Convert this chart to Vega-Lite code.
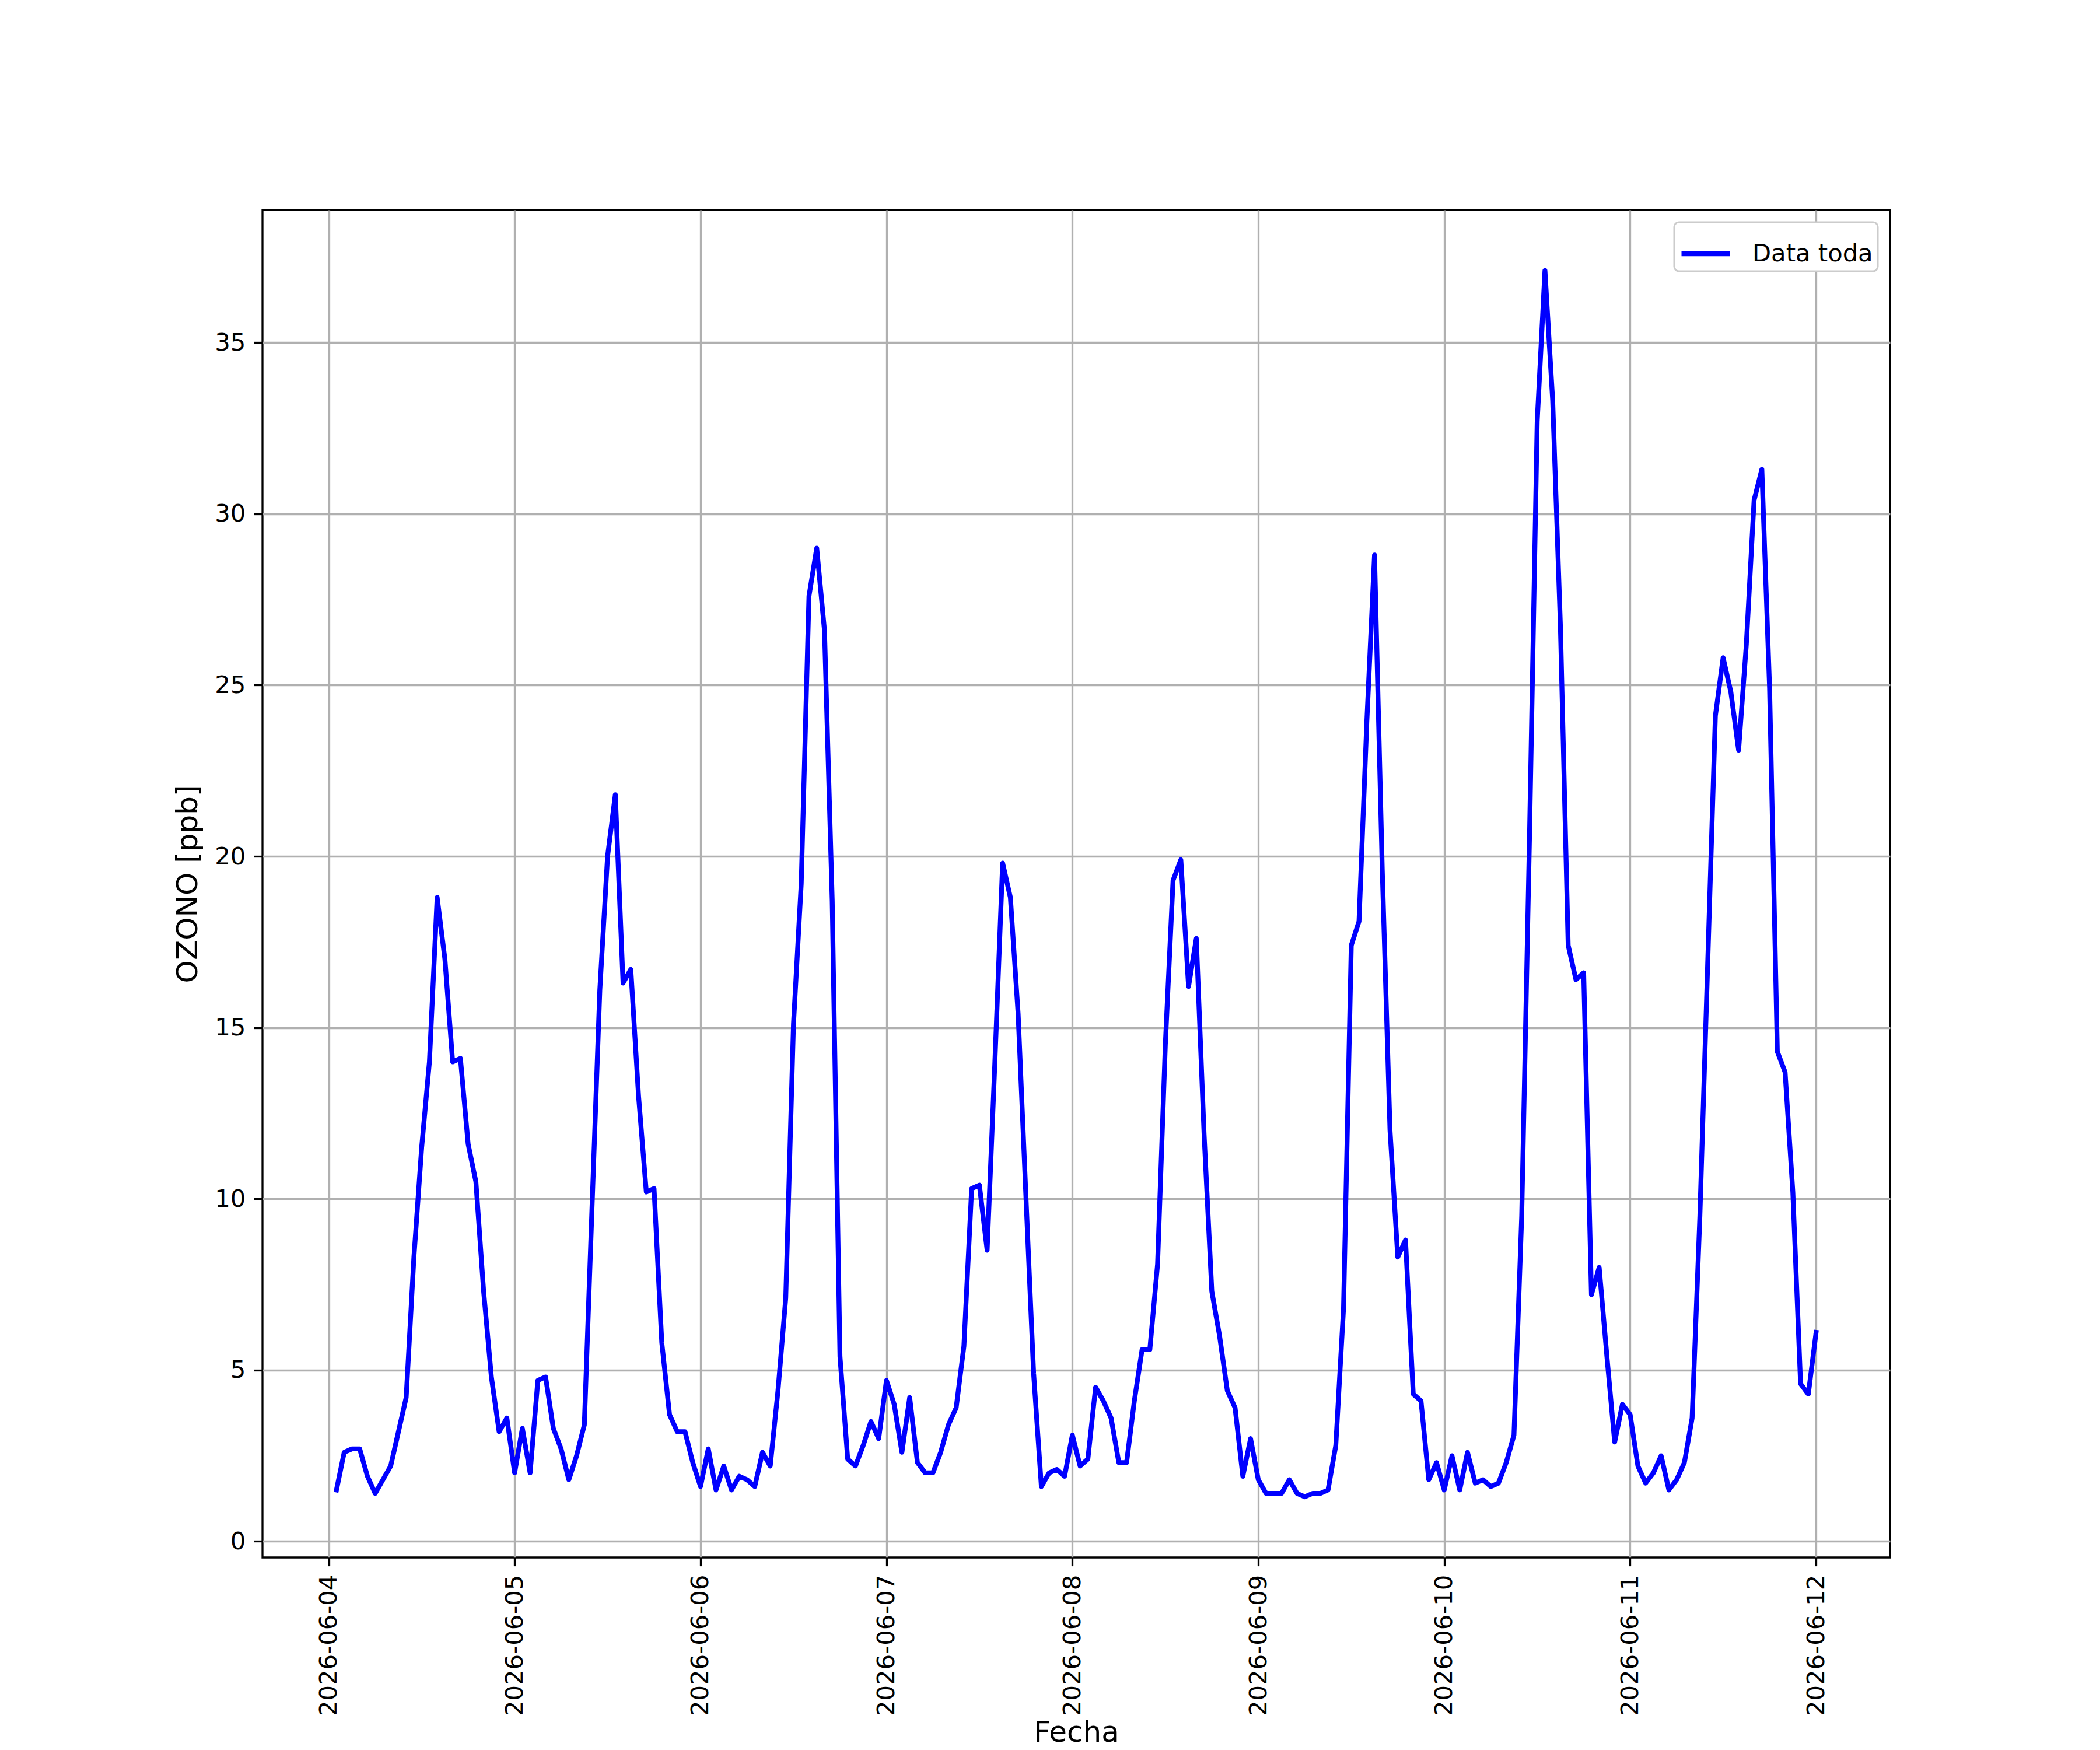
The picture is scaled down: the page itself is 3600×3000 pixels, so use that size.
{
  "$schema": "https://vega.github.io/schema/vega-lite/v6.json",
  "width": 2790,
  "height": 2310,
  "autosize": {"type": "none"},
  "padding": {"left": 450, "top": 360, "right": 360, "bottom": 330},
  "background": "white",
  "data": {
    "values": [
      {"t": "2026-06-04T01:00", "v": 1.5}, {"t": "2026-06-04T02:00", "v": 2.6}, {"t": "2026-06-04T03:00", "v": 2.7}, {"t": "2026-06-04T04:00", "v": 2.7},
      {"t": "2026-06-04T05:00", "v": 1.9}, {"t": "2026-06-04T06:00", "v": 1.4}, {"t": "2026-06-04T07:00", "v": 1.8}, {"t": "2026-06-04T08:00", "v": 2.2},
      {"t": "2026-06-04T09:00", "v": 3.2}, {"t": "2026-06-04T10:00", "v": 4.2}, {"t": "2026-06-04T11:00", "v": 8.3}, {"t": "2026-06-04T12:00", "v": 11.5},
      {"t": "2026-06-04T13:00", "v": 14.0}, {"t": "2026-06-04T14:00", "v": 18.8}, {"t": "2026-06-04T15:00", "v": 17.0}, {"t": "2026-06-04T16:00", "v": 14.0},
      {"t": "2026-06-04T17:00", "v": 14.1}, {"t": "2026-06-04T18:00", "v": 11.6}, {"t": "2026-06-04T19:00", "v": 10.5}, {"t": "2026-06-04T20:00", "v": 7.3},
      {"t": "2026-06-04T21:00", "v": 4.8}, {"t": "2026-06-04T22:00", "v": 3.2}, {"t": "2026-06-04T23:00", "v": 3.6},
      {"t": "2026-06-05T00:00", "v": 2.0}, {"t": "2026-06-05T01:00", "v": 3.3}, {"t": "2026-06-05T02:00", "v": 2.0}, {"t": "2026-06-05T03:00", "v": 4.7},
      {"t": "2026-06-05T04:00", "v": 4.8}, {"t": "2026-06-05T05:00", "v": 3.3}, {"t": "2026-06-05T06:00", "v": 2.7}, {"t": "2026-06-05T07:00", "v": 1.8},
      {"t": "2026-06-05T08:00", "v": 2.5}, {"t": "2026-06-05T09:00", "v": 3.4}, {"t": "2026-06-05T10:00", "v": 9.8}, {"t": "2026-06-05T11:00", "v": 16.1},
      {"t": "2026-06-05T12:00", "v": 20.0}, {"t": "2026-06-05T13:00", "v": 21.8}, {"t": "2026-06-05T14:00", "v": 16.3}, {"t": "2026-06-05T15:00", "v": 16.7},
      {"t": "2026-06-05T16:00", "v": 13.0}, {"t": "2026-06-05T17:00", "v": 10.2}, {"t": "2026-06-05T18:00", "v": 10.3}, {"t": "2026-06-05T19:00", "v": 5.8},
      {"t": "2026-06-05T20:00", "v": 3.7}, {"t": "2026-06-05T21:00", "v": 3.2}, {"t": "2026-06-05T22:00", "v": 3.2}, {"t": "2026-06-05T23:00", "v": 2.3},
      {"t": "2026-06-06T00:00", "v": 1.6}, {"t": "2026-06-06T01:00", "v": 2.7}, {"t": "2026-06-06T02:00", "v": 1.5}, {"t": "2026-06-06T03:00", "v": 2.2},
      {"t": "2026-06-06T04:00", "v": 1.5}, {"t": "2026-06-06T05:00", "v": 1.9}, {"t": "2026-06-06T06:00", "v": 1.8}, {"t": "2026-06-06T07:00", "v": 1.6},
      {"t": "2026-06-06T08:00", "v": 2.6}, {"t": "2026-06-06T09:00", "v": 2.2}, {"t": "2026-06-06T10:00", "v": 4.4}, {"t": "2026-06-06T11:00", "v": 7.1},
      {"t": "2026-06-06T12:00", "v": 15.1}, {"t": "2026-06-06T13:00", "v": 19.2}, {"t": "2026-06-06T14:00", "v": 27.6}, {"t": "2026-06-06T15:00", "v": 29.0},
      {"t": "2026-06-06T16:00", "v": 26.6}, {"t": "2026-06-06T17:00", "v": 18.7}, {"t": "2026-06-06T18:00", "v": 5.4}, {"t": "2026-06-06T19:00", "v": 2.4},
      {"t": "2026-06-06T20:00", "v": 2.2}, {"t": "2026-06-06T21:00", "v": 2.8}, {"t": "2026-06-06T22:00", "v": 3.5}, {"t": "2026-06-06T23:00", "v": 3.0},
      {"t": "2026-06-07T00:00", "v": 4.7}, {"t": "2026-06-07T01:00", "v": 4.0}, {"t": "2026-06-07T02:00", "v": 2.6}, {"t": "2026-06-07T03:00", "v": 4.2},
      {"t": "2026-06-07T04:00", "v": 2.3}, {"t": "2026-06-07T05:00", "v": 2.0}, {"t": "2026-06-07T06:00", "v": 2.0}, {"t": "2026-06-07T07:00", "v": 2.6},
      {"t": "2026-06-07T08:00", "v": 3.4}, {"t": "2026-06-07T09:00", "v": 3.9}, {"t": "2026-06-07T10:00", "v": 5.7}, {"t": "2026-06-07T11:00", "v": 10.3},
      {"t": "2026-06-07T12:00", "v": 10.4}, {"t": "2026-06-07T13:00", "v": 8.5}, {"t": "2026-06-07T14:00", "v": 14.0}, {"t": "2026-06-07T15:00", "v": 19.8},
      {"t": "2026-06-07T16:00", "v": 18.8}, {"t": "2026-06-07T17:00", "v": 15.4}, {"t": "2026-06-07T18:00", "v": 10.1}, {"t": "2026-06-07T19:00", "v": 4.9},
      {"t": "2026-06-07T20:00", "v": 1.6}, {"t": "2026-06-07T21:00", "v": 2.0}, {"t": "2026-06-07T22:00", "v": 2.1}, {"t": "2026-06-07T23:00", "v": 1.9},
      {"t": "2026-06-08T00:00", "v": 3.1}, {"t": "2026-06-08T01:00", "v": 2.2}, {"t": "2026-06-08T02:00", "v": 2.4}, {"t": "2026-06-08T03:00", "v": 4.5},
      {"t": "2026-06-08T04:00", "v": 4.1}, {"t": "2026-06-08T05:00", "v": 3.6}, {"t": "2026-06-08T06:00", "v": 2.3}, {"t": "2026-06-08T07:00", "v": 2.3},
      {"t": "2026-06-08T08:00", "v": 4.1}, {"t": "2026-06-08T09:00", "v": 5.6}, {"t": "2026-06-08T10:00", "v": 5.6}, {"t": "2026-06-08T11:00", "v": 8.1},
      {"t": "2026-06-08T12:00", "v": 14.5}, {"t": "2026-06-08T13:00", "v": 19.3}, {"t": "2026-06-08T14:00", "v": 19.9}, {"t": "2026-06-08T15:00", "v": 16.2},
      {"t": "2026-06-08T16:00", "v": 17.6}, {"t": "2026-06-08T17:00", "v": 11.9}, {"t": "2026-06-08T18:00", "v": 7.3}, {"t": "2026-06-08T19:00", "v": 6.0},
      {"t": "2026-06-08T20:00", "v": 4.4}, {"t": "2026-06-08T21:00", "v": 3.9}, {"t": "2026-06-08T22:00", "v": 1.9}, {"t": "2026-06-08T23:00", "v": 3.0},
      {"t": "2026-06-09T00:00", "v": 1.8}, {"t": "2026-06-09T01:00", "v": 1.4}, {"t": "2026-06-09T02:00", "v": 1.4}, {"t": "2026-06-09T03:00", "v": 1.4},
      {"t": "2026-06-09T04:00", "v": 1.8}, {"t": "2026-06-09T05:00", "v": 1.4}, {"t": "2026-06-09T06:00", "v": 1.3}, {"t": "2026-06-09T07:00", "v": 1.4},
      {"t": "2026-06-09T08:00", "v": 1.4}, {"t": "2026-06-09T09:00", "v": 1.5}, {"t": "2026-06-09T10:00", "v": 2.8}, {"t": "2026-06-09T11:00", "v": 6.8},
      {"t": "2026-06-09T12:00", "v": 17.4}, {"t": "2026-06-09T13:00", "v": 18.1}, {"t": "2026-06-09T14:00", "v": 23.9}, {"t": "2026-06-09T15:00", "v": 28.8},
      {"t": "2026-06-09T16:00", "v": 19.6}, {"t": "2026-06-09T17:00", "v": 12.0}, {"t": "2026-06-09T18:00", "v": 8.3}, {"t": "2026-06-09T19:00", "v": 8.8},
      {"t": "2026-06-09T20:00", "v": 4.3}, {"t": "2026-06-09T21:00", "v": 4.1}, {"t": "2026-06-09T22:00", "v": 1.8}, {"t": "2026-06-09T23:00", "v": 2.3},
      {"t": "2026-06-10T00:00", "v": 1.5}, {"t": "2026-06-10T01:00", "v": 2.5}, {"t": "2026-06-10T02:00", "v": 1.5}, {"t": "2026-06-10T03:00", "v": 2.6},
      {"t": "2026-06-10T04:00", "v": 1.7}, {"t": "2026-06-10T05:00", "v": 1.8}, {"t": "2026-06-10T06:00", "v": 1.6}, {"t": "2026-06-10T07:00", "v": 1.7},
      {"t": "2026-06-10T08:00", "v": 2.3}, {"t": "2026-06-10T09:00", "v": 3.1}, {"t": "2026-06-10T10:00", "v": 9.5}, {"t": "2026-06-10T11:00", "v": 20.5},
      {"t": "2026-06-10T12:00", "v": 32.7}, {"t": "2026-06-10T13:00", "v": 37.1}, {"t": "2026-06-10T14:00", "v": 33.3}, {"t": "2026-06-10T15:00", "v": 26.7},
      {"t": "2026-06-10T16:00", "v": 17.4}, {"t": "2026-06-10T17:00", "v": 16.4}, {"t": "2026-06-10T18:00", "v": 16.6}, {"t": "2026-06-10T19:00", "v": 7.2},
      {"t": "2026-06-10T20:00", "v": 8.0}, {"t": "2026-06-10T21:00", "v": 5.4}, {"t": "2026-06-10T22:00", "v": 2.9}, {"t": "2026-06-10T23:00", "v": 4.0},
      {"t": "2026-06-11T00:00", "v": 3.7}, {"t": "2026-06-11T01:00", "v": 2.2}, {"t": "2026-06-11T02:00", "v": 1.7}, {"t": "2026-06-11T03:00", "v": 2.0},
      {"t": "2026-06-11T04:00", "v": 2.5}, {"t": "2026-06-11T05:00", "v": 1.5}, {"t": "2026-06-11T06:00", "v": 1.8}, {"t": "2026-06-11T07:00", "v": 2.3},
      {"t": "2026-06-11T08:00", "v": 3.6}, {"t": "2026-06-11T09:00", "v": 9.5}, {"t": "2026-06-11T10:00", "v": 16.8}, {"t": "2026-06-11T11:00", "v": 24.1},
      {"t": "2026-06-11T12:00", "v": 25.8}, {"t": "2026-06-11T13:00", "v": 24.8}, {"t": "2026-06-11T14:00", "v": 23.1}, {"t": "2026-06-11T15:00", "v": 26.2},
      {"t": "2026-06-11T16:00", "v": 30.4}, {"t": "2026-06-11T17:00", "v": 31.3}, {"t": "2026-06-11T18:00", "v": 24.9}, {"t": "2026-06-11T19:00", "v": 14.3},
      {"t": "2026-06-11T20:00", "v": 13.7}, {"t": "2026-06-11T21:00", "v": 10.2}, {"t": "2026-06-11T22:00", "v": 4.6}, {"t": "2026-06-11T23:00", "v": 4.3},
      {"t": "2026-06-12T00:00", "v": 6.1}
    ],
    "format": {"parse": {"t": "date"}}
  },
  "mark": {"type": "line", "strokeWidth": 8.3, "strokeJoin": "round", "strokeCap": "square"},
  "encoding": {
    "x": {
      "field": "t",
      "type": "temporal",
      "title": "Fecha",
      "scale": {
        "nice": false,
        "domain": [
          {"year": 2026, "month": 6, "date": 3, "hours": 15, "minutes": 27},
          {"year": 2026, "month": 6, "date": 12, "hours": 9, "minutes": 33}
        ]
      },
      "axis": {
        "format": "%Y-%m-%d",
        "labelAngle": 270,
        "labelLimit": 0,
        "tickCount": {"interval": "day", "step": 1},
        "titleY": 300,
        "titleBaseline": "middle"
      }
    },
    "y": {
      "field": "v",
      "type": "quantitative",
      "title": "OZONO [ppb]",
      "scale": {"domain": [-0.47, 38.87], "nice": false, "zero": false},
      "axis": {"values": [0, 5, 10, 15, 20, 25, 30, 35], "titlePadding": 20}
    },
    "color": {
      "datum": "Data toda",
      "type": "nominal",
      "scale": {"range": ["#0000ff"]},
      "legend": {
        "title": null,
        "orient": "top-right",
        "offset": 21,
        "symbolType": "stroke",
        "symbolSize": 6889,
        "symbolStrokeWidth": 8.3,
        "labelOffset": 34,
        "labelLimit": 0,
        "padding": 8,
        "strokeColor": "#cccccc",
        "fillColor": "white",
        "cornerRadius": 8
      }
    }
  },
  "config": {
    "font": "DejaVu Sans",
    "view": {"stroke": "black", "strokeWidth": 3.3},
    "axis": {
      "labelFont": "DejaVu Sans",
      "titleFont": "DejaVu Sans",
      "labelFontSize": 41.7,
      "titleFontSize": 50,
      "titleFontWeight": "normal",
      "labelColor": "black",
      "titleColor": "black",
      "tickColor": "black",
      "tickSize": 14.6,
      "tickWidth": 3.3,
      "labelPadding": 14.6,
      "domain": false,
      "grid": true,
      "gridColor": "#b0b0b0",
      "gridWidth": 3.3,
      "labelOverlap": false,
      "labelFlush": false
    },
    "legend": {
      "labelFont": "DejaVu Sans",
      "labelFontSize": 41.7,
      "labelColor": "black",
      "strokeWidth": 3
    }
  }
}
